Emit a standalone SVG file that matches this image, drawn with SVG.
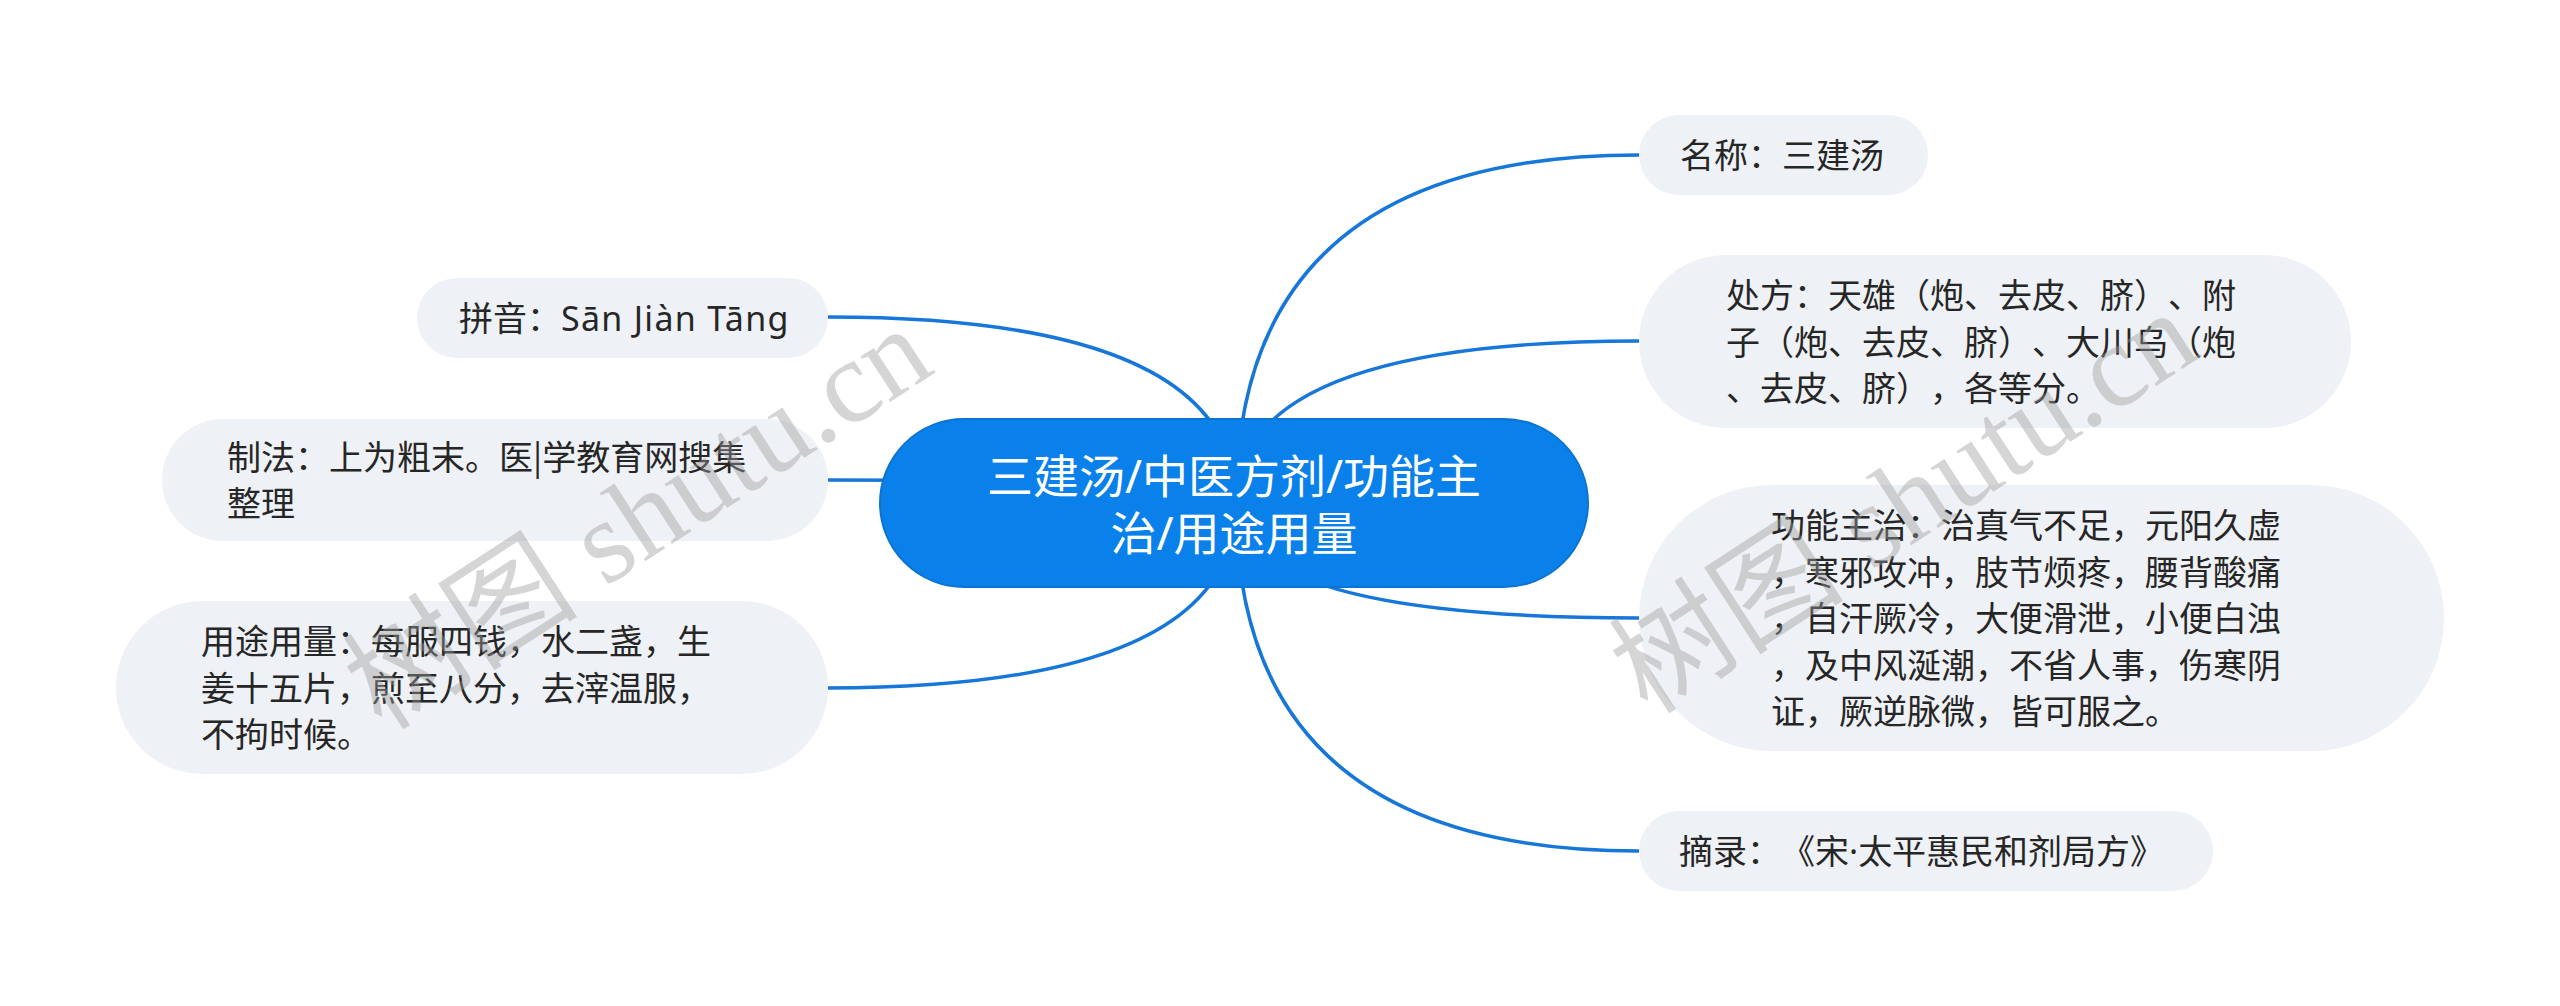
<svg xmlns="http://www.w3.org/2000/svg" width="2560" height="1006" viewBox="0 0 2560 1006">
<style>
.bg{fill:#ffffff}
.link{fill:none;stroke:#1677d9;stroke-width:3.5}
.box{fill:#eef1f5}
.root{fill:#0a81ea;stroke:#0b74d1;stroke-width:2}
text{text-spacing-trim:space-all;font-feature-settings:"chws" 0,"halt" 0,"palt" 0}
.t{font-family:"Noto Sans","Noto Sans CJK SC",sans-serif;font-size:34px;fill:#262626}
.cj{font-family:"Noto Sans CJK SC",sans-serif}
.lat{font-family:"Noto Sans",sans-serif}
.rt{font-family:"Noto Sans","Noto Sans CJK SC",sans-serif;font-size:46px;fill:#ffffff;text-anchor:middle}
.wm{font-family:"Liberation Serif","Noto Sans CJK SC",serif;font-size:118px;fill:#9a9a9a;fill-opacity:0.42}
</style>
<rect class="bg" x="0" y="0" width="2560" height="1006"/>
<g id="connectors">
<path class="link" d="M1236,503 Q1236,155 1639,155"/>
<path class="link" d="M1236,503 Q1236,341 1639,341"/>
<path class="link" d="M1236,503 Q1236,618 1639,618"/>
<path class="link" d="M1236,503 Q1236,851 1639,851"/>
<path class="link" d="M1236,503 Q1236,317 828,317"/>
<path class="link" d="M1236,503 Q1236,480 828,480"/>
<path class="link" d="M1236,503 Q1236,688 828,688"/>
</g>
<g id="root">
<rect class="root" x="880" y="419" width="708" height="168" rx="84"/>
<text class="rt" x="1234" y="493">三建汤/中医方剂/功能主</text>
<text class="rt" x="1234" y="550">治/用途用量</text>
</g>
<g id="n-mingcheng">
<rect class="box" x="1639" y="115" width="289" height="80" rx="40"/>
<text class="t" x="1680" y="168">名称：三建汤</text>
</g>
<g id="n-chufang">
<rect class="box" x="1639" y="255" width="712" height="173" rx="86.5"/>
<text class="t cj" x="1726" y="308">处方：天雄（炮、去皮、脐）、附</text>
<text class="t cj" x="1726" y="354.5">子（炮、去皮、脐）、大川乌（炮</text>
<text class="t cj" x="1726" y="401">、去皮、脐），各等分。</text>
</g>
<g id="n-gongneng">
<rect class="box" x="1639" y="485" width="805" height="266" rx="133"/>
<text class="t" x="1771" y="538">功能主治：治真气不足，元阳久虚</text>
<text class="t" x="1771" y="584.5">，寒邪攻冲，肢节烦疼，腰背酸痛</text>
<text class="t" x="1771" y="631">，自汗厥冷，大便滑泄，小便白浊</text>
<text class="t" x="1771" y="677.5">，及中风涎潮，不省人事，伤寒阴</text>
<text class="t" x="1771" y="724">证，厥逆脉微，皆可服之。</text>
</g>
<g id="n-zhailu">
<rect class="box" x="1639" y="811" width="574" height="80" rx="40"/>
<text class="t cj" x="1679" y="864">摘录：《宋<tspan class="lat">·</tspan>太平惠民和剂局方》</text>
</g>
<g id="n-pinyin">
<rect class="box" x="417" y="278" width="411" height="80" rx="40"/>
<text class="t" x="459" y="331">拼音：<tspan letter-spacing="1.3">Sān Jiàn Tāng</tspan></text>
</g>
<g id="n-zhifa">
<rect class="box" x="162" y="419" width="666" height="122" rx="61"/>
<text class="t cj" x="227" y="470">制法：上为粗末。医|学教育网搜集</text>
<text class="t" x="227" y="516">整理</text>
</g>
<g id="n-yongtu">
<rect class="box" x="116" y="601" width="712" height="173" rx="86.5"/>
<text class="t" x="201" y="654">用途用量：每服四钱，水二盏，生</text>
<text class="t" x="201" y="700.5">姜十五片，煎至八分，去滓温服，</text>
<text class="t" x="201" y="747">不拘时候。</text>
</g>
<g id="watermarks">
<text class="wm" transform="translate(382,732) rotate(-33)">树图 shutu.cn</text>
<text class="wm" transform="translate(1648,716) rotate(-33)">树图 shutu.cn</text>
</g>
</svg>
